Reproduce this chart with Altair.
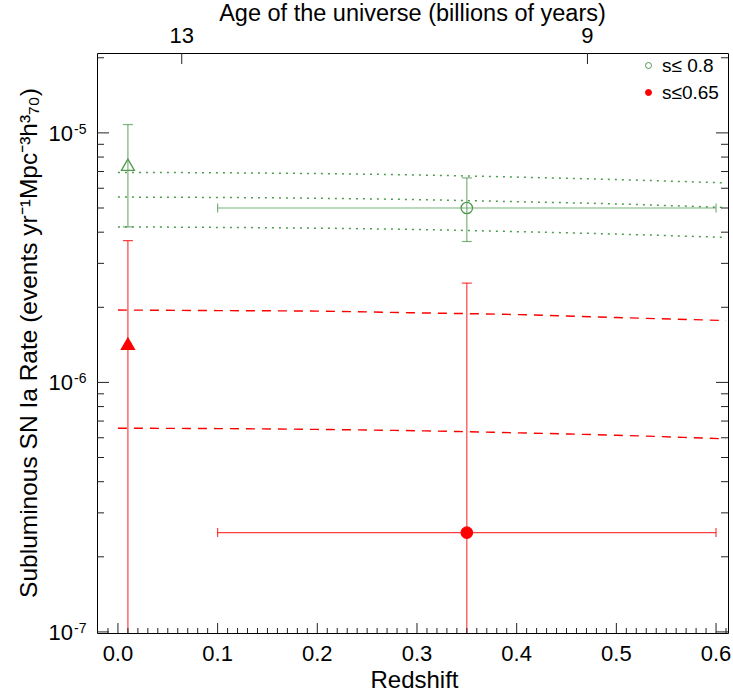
import math

import altair as alt
import pandas as pd

# ---- samples -------------------------------------------------------------
SAMPLES = ["s\u2264 0.8", "s\u22640.65"]
GREEN = "#4f9a4f"
RED = "#ff0000"

# ---- measured rates (events / yr / Mpc^3 h70^3) ---------------------------
pt_sample = [SAMPLES[0], SAMPLES[0], SAMPLES[1], SAMPLES[1]]
pt_kind = ["local", "survey", "local", "survey"]
pt_z = [0.01, 0.35, 0.01, 0.35]
pt_rate = [7.45e-6, 5.0e-6, 1.43e-6, 2.5e-7]
pt_hi = [1.08e-5, 6.6e-6, 3.7e-6, 2.5e-6]
pt_lo = [4.2e-6, 3.67e-6, 1e-8, 1e-8]

# redshift range of the survey bins
bin_sample = [SAMPLES[0], SAMPLES[1]]
bin_rate = [5.0e-6, 2.5e-7]
bin_zlo = [0.1, 0.1]
bin_zhi = [0.6, 0.6]

# ---- model curves ---------------------------------------------------------
model_z = [0.0, 0.1, 0.2, 0.3, 0.4, 0.5, 0.61]
green_hi = [6.94e-6, 6.92e-6, 6.87e-6, 6.78e-6, 6.65e-6, 6.50e-6, 6.30e-6]
green_mid = [5.53e-6, 5.51e-6, 5.47e-6, 5.40e-6, 5.30e-6, 5.19e-6, 5.02e-6]
green_lo = [4.20e-6, 4.18e-6, 4.15e-6, 4.10e-6, 4.02e-6, 3.93e-6, 3.81e-6]
red_hi = [1.95e-6, 1.94e-6, 1.93e-6, 1.90e-6, 1.87e-6, 1.82e-6, 1.77e-6]
red_lo = [6.55e-7, 6.53e-7, 6.48e-7, 6.40e-7, 6.28e-7, 6.14e-7, 5.94e-7]

# ---- axes ----------------------------------------------------------------
x_major = [0.0, 0.1, 0.2, 0.3, 0.4, 0.5, 0.6]
x_labels = ["0.0", "0.1", "0.2", "0.3", "0.4", "0.5", "0.6"]
x_minor = [round(i * 0.01, 2) for i in range(-1, 62) if i % 10 != 0]
y_major = [1e-7, 1e-6, 1e-5]
y_exp = ["-7", "-6", "-5"]
y_minor = [m * 10.0 ** e for e in (-7, -6, -5) for m in range(2, 10) if m * 10.0 ** e < 2.09e-5]
age_labels = ["13", "9"]
age_z = [0.064, 0.471]

TOP_TITLE = "Age of the universe (billions of years)"
X_TITLE = "Redshift"
Y_TITLE = "Subluminous SN Ia Rate (events yr\u207b\u00b9Mpc\u207b\u00b3h\u00b3\u2087\u2080)"
FONT = "Liberation Sans"

W, H = 631, 580
XMIN, XMAX = -0.021, 0.612
YMIN, YMAX = 9.9e-8, 2.09e-5
xs = alt.Scale(domain=[XMIN, XMAX], nice=False, zero=False)
ys = alt.Scale(type="log", domain=[YMIN, YMAX], nice=False)

# pixels per unit of redshift and per decade, used to place the tick marks
X_PX = W / (XMAX - XMIN)
DEC_PX = H / (math.log10(YMAX) - math.log10(YMIN))


# frame, ticks and labels are all drawn as marks, so no layer carries an axis
def X(field):
    return alt.X(field, type="quantitative", scale=xs, axis=None)


def Y(field):
    return alt.Y(field, type="quantitative", scale=ys, axis=None)


# ---- tables --------------------------------------------------------------
def curve_table(names, series):
    rows = []
    for name, vals in zip(names, series):
        for z, v in zip(model_z, vals):
            rows.append({"z": z, "rate": v, "curve": name})
    return pd.DataFrame(rows)


green_curves = curve_table(["hi", "mid", "lo"], [green_hi, green_mid, green_lo])
red_curves = curve_table(["hi", "lo"], [red_hi, red_lo])

points = pd.DataFrame({
    "sample": pt_sample, "kind": pt_kind, "z": pt_z,
    "rate": pt_rate, "hi": pt_hi, "lo": pt_lo,
})
bins = pd.DataFrame({"sample": bin_sample, "rate": bin_rate, "zlo": bin_zlo, "zhi": bin_zhi})

# ---- model lines ------------------------------------------------------------
green_lines = alt.Chart(green_curves).mark_line(
    color=GREEN, strokeWidth=1.5, strokeDash=[2, 5], interpolate="monotone"
).encode(x=X("z"), y=Y("rate"), detail="curve:N")

red_lines = alt.Chart(red_curves).mark_line(
    color=RED, strokeWidth=1.4, strokeDash=[9, 7], interpolate="monotone"
).encode(x=X("z"), y=Y("rate"), detail="curve:N")


# ---- error bars, one colour per sample ---------------------------------------
def error_bars(sample, color, lower_caps):
    pts = points[points["sample"] == sample]
    bn = bins[bins["sample"] == sample]
    if lower_caps:
        caps = pd.DataFrame({"z": list(pts["z"]) * 2, "v": list(pts["hi"]) + list(pts["lo"])})
    else:
        caps = pd.DataFrame({"z": list(pts["z"]), "v": list(pts["hi"])})
    bcaps = pd.DataFrame({"z": list(bn["zlo"]) + list(bn["zhi"]), "v": list(bn["rate"]) * 2})
    style = dict(color=color, opacity=0.75)
    return [
        alt.Chart(pts).mark_rule(strokeWidth=1.2, clip=True, **style).encode(
            x=X("z"), y=Y("lo"), y2="hi"),
        alt.Chart(bn).mark_rule(strokeWidth=1.2, **style).encode(
            x=X("zlo"), x2="zhi", y=Y("rate")),
        alt.Chart(caps).mark_tick(orient="horizontal", size=10, thickness=1.2, **style).encode(
            x=X("z"), y=Y("v")),
        alt.Chart(bcaps).mark_tick(orient="vertical", size=9, thickness=1.2, **style).encode(
            x=X("z"), y=Y("v")),
    ]


green_err = error_bars(SAMPLES[0], GREEN, True)
red_err = error_bars(SAMPLES[1], RED, False)

# ---- markers with the sample legend ----------------------------------------
legend = alt.Legend(
    title=None, orient="none", legendX=542, legendY=3, padding=0,
    labelFont=FONT, labelFontSize=19, labelColor="black", labelOffset=4,
    symbolSize=36, symbolStrokeWidth=1, rowPadding=7, symbolType="circle",
)
markers = alt.Chart(points).mark_point(opacity=1, fillOpacity=1, strokeWidth=1.3).encode(
    x=X("z"), y=Y("rate"),
    shape=alt.Shape("kind:N", scale=alt.Scale(domain=["local", "survey"],
                                              range=["triangle-up", "circle"]), legend=None),
    size=alt.Size("kind:N", scale=alt.Scale(domain=["local", "survey"], range=[170, 130]),
                  legend=None),
    fill=alt.Fill("sample:N", scale=alt.Scale(domain=SAMPLES, range=["transparent", RED]),
                  legend=legend),
    stroke=alt.Stroke("sample:N", scale=alt.Scale(domain=SAMPLES, range=[GREEN, RED]),
                      legend=legend),
)

# ---- inward tick marks: short ticks centred half a tick inside the frame ----
TICK = "#222222"


def xticks(values, length_px, at_bottom=True):
    shift = 10 ** (length_px / 2 / DEC_PX)
    centre = YMIN * shift if at_bottom else YMAX / shift
    df = pd.DataFrame({"v": values, "c": centre})
    return alt.Chart(df).mark_tick(
        orient="vertical", size=length_px, thickness=1, color=TICK, opacity=1
    ).encode(x=X("v"), y=Y("c"))


def yticks(values, length_px, at_left=True):
    half = length_px / 2 / X_PX
    centre = XMIN + half if at_left else XMAX - half
    df = pd.DataFrame({"v": values, "c": centre})
    return alt.Chart(df).mark_tick(
        orient="horizontal", size=length_px, thickness=1, color=TICK, opacity=1
    ).encode(y=Y("v"), x=X("c"))


tick_layers = [
    xticks(x_major, 10), xticks(x_minor, 5), xticks(age_z, 11, at_bottom=False),
    yticks(y_major, 12), yticks(y_minor, 7),
    yticks(y_major, 12, at_left=False), yticks(y_minor, 7, at_left=False),
]

# ---- tick labels ------------------------------------------------------------
TXT = dict(font=FONT, color="black")
ylab_df = pd.DataFrame({"v": y_major, "exp": y_exp})
ylab_base = alt.Chart(ylab_df).mark_text(
    text="10", align="right", baseline="alphabetic", dy=8, fontSize=22, **TXT
).encode(y=Y("v"), x=alt.value(-24))
ylab_exp = alt.Chart(ylab_df).mark_text(
    align="left", baseline="alphabetic", dy=1, fontSize=14, **TXT
).encode(y=Y("v"), x=alt.value(-23), text="exp:N")
xlab = alt.Chart(pd.DataFrame({"v": x_major, "label": x_labels})).mark_text(
    align="center", baseline="alphabetic", fontSize=22, **TXT
).encode(x=X("v"), y=alt.value(H + 28), text="label:N")
age_text = alt.Chart(pd.DataFrame({"v": age_z, "label": age_labels})).mark_text(
    align="center", baseline="alphabetic", fontSize=22, **TXT
).encode(x=X("v"), y=alt.value(-10), text="label:N")

# ---- titles -----------------------------------------------------------------
top_title = alt.Chart(pd.DataFrame({"label": [TOP_TITLE]})).mark_text(
    align="center", baseline="alphabetic", fontSize=23.5, **TXT
).encode(x=alt.value(W / 2), y=alt.value(-32), text="label:N")
x_title = alt.Chart(pd.DataFrame({"label": [X_TITLE]})).mark_text(
    align="center", baseline="alphabetic", fontSize=24, **TXT
).encode(x=alt.value(W / 2 + 2), y=alt.value(H + 55), text="label:N")
y_title = alt.Chart(pd.DataFrame({"label": [Y_TITLE]})).mark_text(
    align="center", baseline="alphabetic", angle=270, fontSize=24.5, **TXT
).encode(x=alt.value(-60), y=alt.value(H / 2), text="label:N")

chart = alt.layer(
    green_lines, red_lines, *green_err, *red_err, markers, *tick_layers,
    ylab_base, ylab_exp, xlab, age_text, top_title, x_title, y_title,
).properties(
    width=W, height=H,
    padding={"left": 97, "top": 53, "right": 5, "bottom": 60},
    autosize=alt.AutoSizeParams(type="none"),
    background="white",
).configure(font=FONT).configure_view(stroke="black", strokeWidth=1)

chart.save("out.html", embed_options={"renderer": "svg", "actions": False})
